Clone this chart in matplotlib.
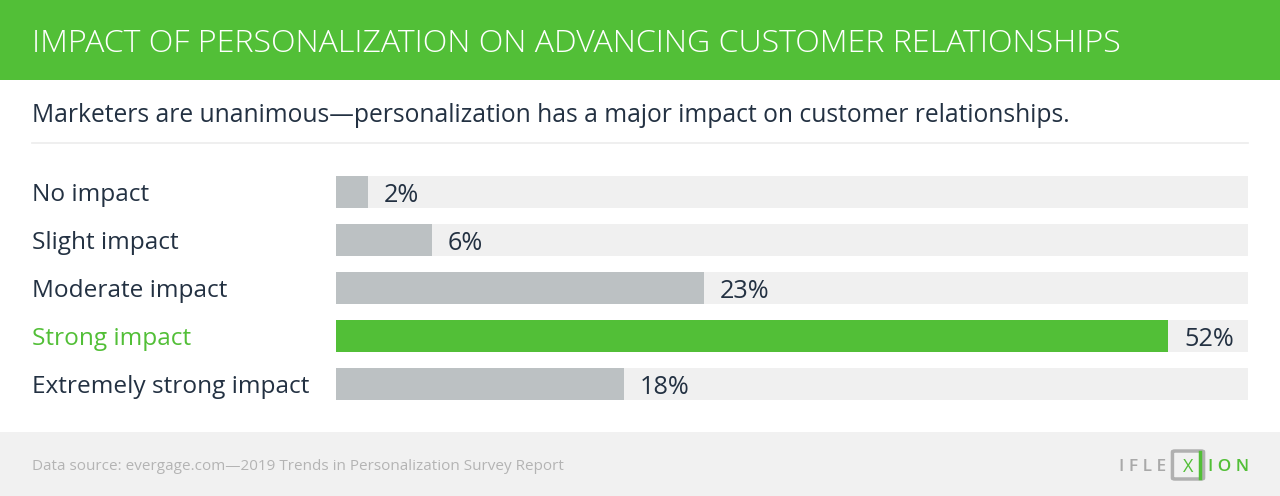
import matplotlib
matplotlib.use("Agg")
import matplotlib.pyplot as plt
from matplotlib.patches import Rectangle, FancyBboxPatch

# data
categories = ["No impact", "Slight impact", "Moderate impact", "Strong impact", "Extremely strong impact"]
values = [2, 6, 23, 52, 18]
highlight = "Strong impact"
axis_max = 57

title = "IMPACT OF PERSONALIZATION ON ADVANCING CUSTOMER RELATIONSHIPS"
subtitle = "Marketers are unanimous\u2014personalization has a major impact on customer relationships."
source = "Data source: evergage.com\u20142019 Trends in Personalization Survey Report"

GREEN = "#52bf37"
GREY_BAR = "#bcc1c3"
TRACK = "#f0f0f0"
DARK = "#233142"
W, H = 1280, 496

plt.rcParams['font.family'] = ['Open Sans', 'DejaVu Sans']


def fx(px):
    return px / W


def fy(py):
    return 1 - py / H


fig = plt.figure(figsize=(W / 100, H / 100), dpi=100)
fig.patch.set_facecolor("white")

# header band and footer band
fig.patches.append(Rectangle((0, fy(80)), 1, 80 / H, transform=fig.transFigure,
                             facecolor=GREEN, edgecolor="none", zorder=0))
fig.patches.append(Rectangle((0, 0), 1, 64 / H, transform=fig.transFigure,
                             facecolor="#f1f1f1", edgecolor="none", zorder=0))
# separator under subtitle
fig.add_artist(plt.Line2D([fx(32), fx(1248)], [fy(143), fy(143)], color="#ececec", lw=1.2))

fig.text(fx(32), fy(40), title, color="white", fontsize=23.1, fontweight="light",
         va="center_baseline", ha="left")
fig.text(fx(32), fy(112), subtitle, color=DARK, fontsize=17.7, va="center_baseline", ha="left")
fig.text(fx(32), fy(465), source, color="#b4b4b4", fontsize=11, va="center_baseline", ha="left")

# logo
fig.text(fx(1166), fy(465), "I F L E", color="#a9a9a9", fontsize=12.5, va="center_baseline",
         ha="right", fontweight="semibold")
fig.patches.append(FancyBboxPatch((fx(1175), fy(478)), fx(26), 26 / H, boxstyle="round,pad=0.002",
                                  transform=fig.transFigure, facecolor="none",
                                  edgecolor="#b0b0b0", lw=2.5))
fig.add_artist(plt.Line2D([fx(1200), fx(1200)], [fy(452), fy(478)], color=GREEN, lw=2.5))
fig.text(fx(1188), fy(465), "X", color=GREEN, fontsize=13, va="center_baseline", ha="center")
fig.text(fx(1208), fy(465), "I O N", color=GREEN, fontsize=12.3, va="center_baseline", ha="left",
         fontweight="semibold")

# bars
ax = fig.add_axes([fx(336), fy(408), fx(912), 240 / H])
y = list(range(len(categories)))
ax.barh(y, [axis_max] * len(categories), height=32 / 48, color=TRACK, zorder=1)
colors = [GREEN if c == highlight else GREY_BAR for c in categories]
ax.barh(y, values, height=32 / 48, color=colors, zorder=2)
ax.set_xlim(0, axis_max)
ax.set_ylim(len(categories) - 0.5, -0.5)
ax.axis("off")

for i, (cat, v) in enumerate(zip(categories, values)):
    ax.text(v + 1, i, f"{v}%", color=DARK, fontsize=18.2, va="center_baseline", ha="left", zorder=3)
    ax.annotate(cat, xy=(fx(32), i), xycoords=("figure fraction", "data"),
                color=GREEN if cat == highlight else DARK, fontsize=17.6,
                va="center_baseline", ha="left")

fig.savefig("out.png", dpi=100)
